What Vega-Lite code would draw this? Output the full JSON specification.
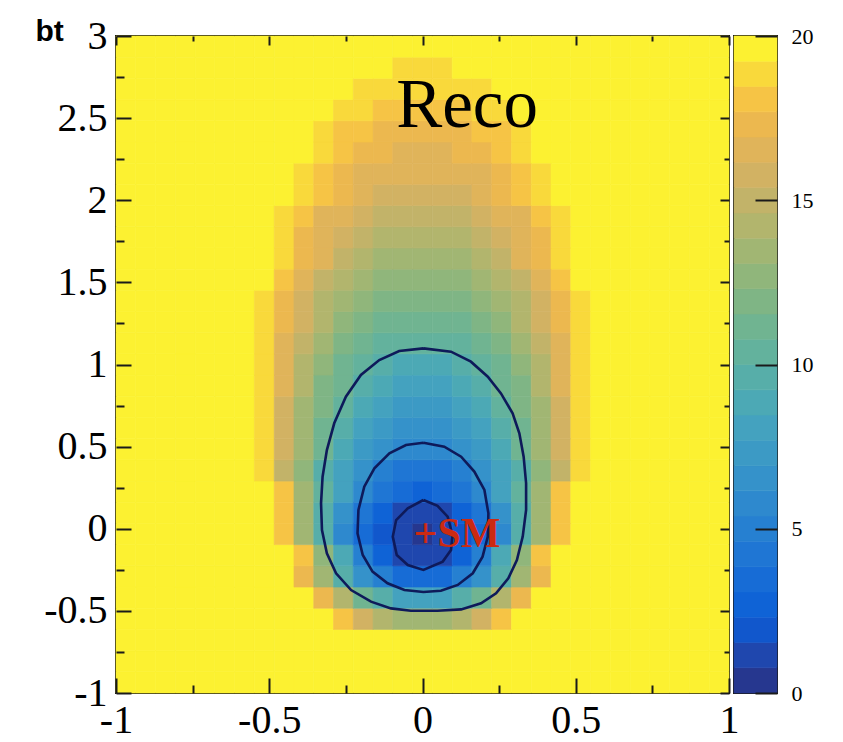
{
"$schema": "https://vega.github.io/schema/vega-lite/v6.json",
"background": "white",
"padding": {"left": 34, "top": 15, "right": 5, "bottom": 5},
"bounds": "flush",
"spacing": 5,
"config": {
  "view": {"stroke": "#1a1a1a", "strokeWidth": 2},
  "axis": {"labelFont": "Liberation Serif", "labelColor": "black", "tickColor": "#1a1a1a", "tickWidth": 2, "domain": false, "grid": false, "labelFlush": false, "labelOverlap": false, "labelBound": false, "zindex": 2}
},
"hconcat": [
{
  "width": 613,
  "height": 657,
  "layer": [
    {
      "data": {"values": [
{"i":0,"j":0,"v":20},{"i":1,"j":0,"v":20},{"i":2,"j":0,"v":20},{"i":3,"j":0,"v":20},{"i":4,"j":0,"v":20},{"i":5,"j":0,"v":20},{"i":6,"j":0,"v":20},{"i":7,"j":0,"v":20},{"i":8,"j":0,"v":20},{"i":9,"j":0,"v":20},{"i":10,"j":0,"v":20},{"i":11,"j":0,"v":20},{"i":12,"j":0,"v":20},{"i":13,"j":0,"v":20},{"i":14,"j":0,"v":20},{"i":15,"j":0,"v":20},{"i":16,"j":0,"v":20},{"i":17,"j":0,"v":20},{"i":18,"j":0,"v":20},{"i":19,"j":0,"v":20},{"i":20,"j":0,"v":20},{"i":21,"j":0,"v":20},{"i":22,"j":0,"v":20},{"i":23,"j":0,"v":20},{"i":24,"j":0,"v":20},{"i":25,"j":0,"v":20},{"i":26,"j":0,"v":20},{"i":27,"j":0,"v":20},{"i":28,"j":0,"v":20},{"i":29,"j":0,"v":20},{"i":30,"j":0,"v":20},
{"i":0,"j":1,"v":20},{"i":1,"j":1,"v":20},{"i":2,"j":1,"v":20},{"i":3,"j":1,"v":20},{"i":4,"j":1,"v":20},{"i":5,"j":1,"v":20},{"i":6,"j":1,"v":20},{"i":7,"j":1,"v":20},{"i":8,"j":1,"v":20},{"i":9,"j":1,"v":20},{"i":10,"j":1,"v":20},{"i":11,"j":1,"v":20},{"i":12,"j":1,"v":20},{"i":13,"j":1,"v":20},{"i":14,"j":1,"v":20},{"i":15,"j":1,"v":20},{"i":16,"j":1,"v":20},{"i":17,"j":1,"v":20},{"i":18,"j":1,"v":20},{"i":19,"j":1,"v":20},{"i":20,"j":1,"v":20},{"i":21,"j":1,"v":20},{"i":22,"j":1,"v":20},{"i":23,"j":1,"v":20},{"i":24,"j":1,"v":20},{"i":25,"j":1,"v":20},{"i":26,"j":1,"v":20},{"i":27,"j":1,"v":20},{"i":28,"j":1,"v":20},{"i":29,"j":1,"v":20},{"i":30,"j":1,"v":20},
{"i":0,"j":2,"v":20},{"i":1,"j":2,"v":20},{"i":2,"j":2,"v":20},{"i":3,"j":2,"v":20},{"i":4,"j":2,"v":20},{"i":5,"j":2,"v":20},{"i":6,"j":2,"v":20},{"i":7,"j":2,"v":20},{"i":8,"j":2,"v":20},{"i":9,"j":2,"v":20},{"i":10,"j":2,"v":20},{"i":11,"j":2,"v":20},{"i":12,"j":2,"v":20},{"i":13,"j":2,"v":20},{"i":14,"j":2,"v":20},{"i":15,"j":2,"v":20},{"i":16,"j":2,"v":20},{"i":17,"j":2,"v":20},{"i":18,"j":2,"v":20},{"i":19,"j":2,"v":20},{"i":20,"j":2,"v":20},{"i":21,"j":2,"v":20},{"i":22,"j":2,"v":20},{"i":23,"j":2,"v":20},{"i":24,"j":2,"v":20},{"i":25,"j":2,"v":20},{"i":26,"j":2,"v":20},{"i":27,"j":2,"v":20},{"i":28,"j":2,"v":20},{"i":29,"j":2,"v":20},{"i":30,"j":2,"v":20},
{"i":0,"j":3,"v":20},{"i":1,"j":3,"v":20},{"i":2,"j":3,"v":20},{"i":3,"j":3,"v":20},{"i":4,"j":3,"v":20},{"i":5,"j":3,"v":20},{"i":6,"j":3,"v":20},{"i":7,"j":3,"v":20},{"i":8,"j":3,"v":20},{"i":9,"j":3,"v":20},{"i":10,"j":3,"v":20},{"i":11,"j":3,"v":18},{"i":12,"j":3,"v":16},{"i":13,"j":3,"v":14.6},{"i":14,"j":3,"v":13.8},{"i":15,"j":3,"v":13.5},{"i":16,"j":3,"v":13.8},{"i":17,"j":3,"v":14.6},{"i":18,"j":3,"v":16},{"i":19,"j":3,"v":18},{"i":20,"j":3,"v":20},{"i":21,"j":3,"v":20},{"i":22,"j":3,"v":20},{"i":23,"j":3,"v":20},{"i":24,"j":3,"v":20},{"i":25,"j":3,"v":20},{"i":26,"j":3,"v":20},{"i":27,"j":3,"v":20},{"i":28,"j":3,"v":20},{"i":29,"j":3,"v":20},{"i":30,"j":3,"v":20},
{"i":0,"j":4,"v":20},{"i":1,"j":4,"v":20},{"i":2,"j":4,"v":20},{"i":3,"j":4,"v":20},{"i":4,"j":4,"v":20},{"i":5,"j":4,"v":20},{"i":6,"j":4,"v":20},{"i":7,"j":4,"v":20},{"i":8,"j":4,"v":20},{"i":9,"j":4,"v":20},{"i":10,"j":4,"v":17.5},{"i":11,"j":4,"v":14},{"i":12,"j":4,"v":11.3},{"i":13,"j":4,"v":9.4},{"i":14,"j":4,"v":8.2},{"i":15,"j":4,"v":7.8},{"i":16,"j":4,"v":8.2},{"i":17,"j":4,"v":9.4},{"i":18,"j":4,"v":11.3},{"i":19,"j":4,"v":14},{"i":20,"j":4,"v":17.5},{"i":21,"j":4,"v":20},{"i":22,"j":4,"v":20},{"i":23,"j":4,"v":20},{"i":24,"j":4,"v":20},{"i":25,"j":4,"v":20},{"i":26,"j":4,"v":20},{"i":27,"j":4,"v":20},{"i":28,"j":4,"v":20},{"i":29,"j":4,"v":20},{"i":30,"j":4,"v":20},
{"i":0,"j":5,"v":20},{"i":1,"j":5,"v":20},{"i":2,"j":5,"v":20},{"i":3,"j":5,"v":20},{"i":4,"j":5,"v":20},{"i":5,"j":5,"v":20},{"i":6,"j":5,"v":20},{"i":7,"j":5,"v":20},{"i":8,"j":5,"v":20},{"i":9,"j":5,"v":17.5},{"i":10,"j":5,"v":13.1},{"i":11,"j":5,"v":9.6},{"i":12,"j":5,"v":6.8},{"i":13,"j":5,"v":4.8},{"i":14,"j":5,"v":3.6},{"i":15,"j":5,"v":3.2},{"i":16,"j":5,"v":3.6},{"i":17,"j":5,"v":4.8},{"i":18,"j":5,"v":6.8},{"i":19,"j":5,"v":9.6},{"i":20,"j":5,"v":13.1},{"i":21,"j":5,"v":17.5},{"i":22,"j":5,"v":20},{"i":23,"j":5,"v":20},{"i":24,"j":5,"v":20},{"i":25,"j":5,"v":20},{"i":26,"j":5,"v":20},{"i":27,"j":5,"v":20},{"i":28,"j":5,"v":20},{"i":29,"j":5,"v":20},{"i":30,"j":5,"v":20},
{"i":0,"j":6,"v":20},{"i":1,"j":6,"v":20},{"i":2,"j":6,"v":20},{"i":3,"j":6,"v":20},{"i":4,"j":6,"v":20},{"i":5,"j":6,"v":20},{"i":6,"j":6,"v":20},{"i":7,"j":6,"v":20},{"i":8,"j":6,"v":20},{"i":9,"j":6,"v":17.8},{"i":10,"j":6,"v":12.7},{"i":11,"j":6,"v":8.5},{"i":12,"j":6,"v":5.2},{"i":13,"j":6,"v":2.9},{"i":14,"j":6,"v":1.5},{"i":15,"j":6,"v":1},{"i":16,"j":6,"v":1.5},{"i":17,"j":6,"v":2.9},{"i":18,"j":6,"v":5.2},{"i":19,"j":6,"v":8.5},{"i":20,"j":6,"v":12.7},{"i":21,"j":6,"v":17.8},{"i":22,"j":6,"v":20},{"i":23,"j":6,"v":20},{"i":24,"j":6,"v":20},{"i":25,"j":6,"v":20},{"i":26,"j":6,"v":20},{"i":27,"j":6,"v":20},{"i":28,"j":6,"v":20},{"i":29,"j":6,"v":20},{"i":30,"j":6,"v":20},
{"i":0,"j":7,"v":20},{"i":1,"j":7,"v":20},{"i":2,"j":7,"v":20},{"i":3,"j":7,"v":20},{"i":4,"j":7,"v":20},{"i":5,"j":7,"v":20},{"i":6,"j":7,"v":20},{"i":7,"j":7,"v":20},{"i":8,"j":7,"v":17.7},{"i":9,"j":7,"v":13.1},{"i":10,"j":7,"v":9.3},{"i":11,"j":7,"v":6.1},{"i":12,"j":7,"v":3.7},{"i":13,"j":7,"v":1.9},{"i":14,"j":7,"v":0.85},{"i":15,"j":7,"v":0.5},{"i":16,"j":7,"v":0.85},{"i":17,"j":7,"v":1.9},{"i":18,"j":7,"v":3.7},{"i":19,"j":7,"v":6.1},{"i":20,"j":7,"v":9.3},{"i":21,"j":7,"v":13.1},{"i":22,"j":7,"v":17.7},{"i":23,"j":7,"v":20},{"i":24,"j":7,"v":20},{"i":25,"j":7,"v":20},{"i":26,"j":7,"v":20},{"i":27,"j":7,"v":20},{"i":28,"j":7,"v":20},{"i":29,"j":7,"v":20},{"i":30,"j":7,"v":20},
{"i":0,"j":8,"v":20},{"i":1,"j":8,"v":20},{"i":2,"j":8,"v":20},{"i":3,"j":8,"v":20},{"i":4,"j":8,"v":20},{"i":5,"j":8,"v":20},{"i":6,"j":8,"v":20},{"i":7,"j":8,"v":20},{"i":8,"j":8,"v":17.7},{"i":9,"j":8,"v":13.3},{"i":10,"j":8,"v":9.6},{"i":11,"j":8,"v":6.6},{"i":12,"j":8,"v":4.2},{"i":13,"j":8,"v":2.5},{"i":14,"j":8,"v":1.5},{"i":15,"j":8,"v":1.2},{"i":16,"j":8,"v":1.5},{"i":17,"j":8,"v":2.5},{"i":18,"j":8,"v":4.2},{"i":19,"j":8,"v":6.6},{"i":20,"j":8,"v":9.6},{"i":21,"j":8,"v":13.3},{"i":22,"j":8,"v":17.7},{"i":23,"j":8,"v":20},{"i":24,"j":8,"v":20},{"i":25,"j":8,"v":20},{"i":26,"j":8,"v":20},{"i":27,"j":8,"v":20},{"i":28,"j":8,"v":20},{"i":29,"j":8,"v":20},{"i":30,"j":8,"v":20},
{"i":0,"j":9,"v":20},{"i":1,"j":9,"v":20},{"i":2,"j":9,"v":20},{"i":3,"j":9,"v":20},{"i":4,"j":9,"v":20},{"i":5,"j":9,"v":20},{"i":6,"j":9,"v":20},{"i":7,"j":9,"v":20},{"i":8,"j":9,"v":17.8},{"i":9,"j":9,"v":13.8},{"i":10,"j":9,"v":10.5},{"i":11,"j":9,"v":7.8},{"i":12,"j":9,"v":5.6},{"i":13,"j":9,"v":4.1},{"i":14,"j":9,"v":3.2},{"i":15,"j":9,"v":2.9},{"i":16,"j":9,"v":3.2},{"i":17,"j":9,"v":4.1},{"i":18,"j":9,"v":5.6},{"i":19,"j":9,"v":7.8},{"i":20,"j":9,"v":10.5},{"i":21,"j":9,"v":13.8},{"i":22,"j":9,"v":17.8},{"i":23,"j":9,"v":20},{"i":24,"j":9,"v":20},{"i":25,"j":9,"v":20},{"i":26,"j":9,"v":20},{"i":27,"j":9,"v":20},{"i":28,"j":9,"v":20},{"i":29,"j":9,"v":20},{"i":30,"j":9,"v":20},
{"i":0,"j":10,"v":20},{"i":1,"j":10,"v":20},{"i":2,"j":10,"v":20},{"i":3,"j":10,"v":20},{"i":4,"j":10,"v":20},{"i":5,"j":10,"v":20},{"i":6,"j":10,"v":20},{"i":7,"j":10,"v":18.6},{"i":8,"j":10,"v":15.3},{"i":9,"j":10,"v":12.4},{"i":10,"j":10,"v":9.9},{"i":11,"j":10,"v":8},{"i":12,"j":10,"v":6.4},{"i":13,"j":10,"v":5.3},{"i":14,"j":10,"v":4.6},{"i":15,"j":10,"v":4.4},{"i":16,"j":10,"v":4.6},{"i":17,"j":10,"v":5.3},{"i":18,"j":10,"v":6.4},{"i":19,"j":10,"v":8},{"i":20,"j":10,"v":9.9},{"i":21,"j":10,"v":12.4},{"i":22,"j":10,"v":15.3},{"i":23,"j":10,"v":18.6},{"i":24,"j":10,"v":20},{"i":25,"j":10,"v":20},{"i":26,"j":10,"v":20},{"i":27,"j":10,"v":20},{"i":28,"j":10,"v":20},{"i":29,"j":10,"v":20},{"i":30,"j":10,"v":20},
{"i":0,"j":11,"v":20},{"i":1,"j":11,"v":20},{"i":2,"j":11,"v":20},{"i":3,"j":11,"v":20},{"i":4,"j":11,"v":20},{"i":5,"j":11,"v":20},{"i":6,"j":11,"v":20},{"i":7,"j":11,"v":18.7},{"i":8,"j":11,"v":15.7},{"i":9,"j":11,"v":13.1},{"i":10,"j":11,"v":10.8},{"i":11,"j":11,"v":9},{"i":12,"j":11,"v":7.6},{"i":13,"j":11,"v":6.6},{"i":14,"j":11,"v":6},{"i":15,"j":11,"v":5.8},{"i":16,"j":11,"v":6},{"i":17,"j":11,"v":6.6},{"i":18,"j":11,"v":7.6},{"i":19,"j":11,"v":9},{"i":20,"j":11,"v":10.8},{"i":21,"j":11,"v":13.1},{"i":22,"j":11,"v":15.7},{"i":23,"j":11,"v":18.7},{"i":24,"j":11,"v":20},{"i":25,"j":11,"v":20},{"i":26,"j":11,"v":20},{"i":27,"j":11,"v":20},{"i":28,"j":11,"v":20},{"i":29,"j":11,"v":20},{"i":30,"j":11,"v":20},
{"i":0,"j":12,"v":20},{"i":1,"j":12,"v":20},{"i":2,"j":12,"v":20},{"i":3,"j":12,"v":20},{"i":4,"j":12,"v":20},{"i":5,"j":12,"v":20},{"i":6,"j":12,"v":20},{"i":7,"j":12,"v":18.7},{"i":8,"j":12,"v":15.9},{"i":9,"j":12,"v":13.4},{"i":10,"j":12,"v":11.3},{"i":11,"j":12,"v":9.6},{"i":12,"j":12,"v":8.3},{"i":13,"j":12,"v":7.4},{"i":14,"j":12,"v":6.8},{"i":15,"j":12,"v":6.6},{"i":16,"j":12,"v":6.8},{"i":17,"j":12,"v":7.4},{"i":18,"j":12,"v":8.3},{"i":19,"j":12,"v":9.6},{"i":20,"j":12,"v":11.3},{"i":21,"j":12,"v":13.4},{"i":22,"j":12,"v":15.9},{"i":23,"j":12,"v":18.7},{"i":24,"j":12,"v":20},{"i":25,"j":12,"v":20},{"i":26,"j":12,"v":20},{"i":27,"j":12,"v":20},{"i":28,"j":12,"v":20},{"i":29,"j":12,"v":20},{"i":30,"j":12,"v":20},
{"i":0,"j":13,"v":20},{"i":1,"j":13,"v":20},{"i":2,"j":13,"v":20},{"i":3,"j":13,"v":20},{"i":4,"j":13,"v":20},{"i":5,"j":13,"v":20},{"i":6,"j":13,"v":20},{"i":7,"j":13,"v":18.8},{"i":8,"j":13,"v":16.1},{"i":9,"j":13,"v":13.8},{"i":10,"j":13,"v":11.9},{"i":11,"j":13,"v":10.3},{"i":12,"j":13,"v":9},{"i":13,"j":13,"v":8.1},{"i":14,"j":13,"v":7.6},{"i":15,"j":13,"v":7.4},{"i":16,"j":13,"v":7.6},{"i":17,"j":13,"v":8.1},{"i":18,"j":13,"v":9},{"i":19,"j":13,"v":10.3},{"i":20,"j":13,"v":11.9},{"i":21,"j":13,"v":13.8},{"i":22,"j":13,"v":16.1},{"i":23,"j":13,"v":18.8},{"i":24,"j":13,"v":20},{"i":25,"j":13,"v":20},{"i":26,"j":13,"v":20},{"i":27,"j":13,"v":20},{"i":28,"j":13,"v":20},{"i":29,"j":13,"v":20},{"i":30,"j":13,"v":20},
{"i":0,"j":14,"v":20},{"i":1,"j":14,"v":20},{"i":2,"j":14,"v":20},{"i":3,"j":14,"v":20},{"i":4,"j":14,"v":20},{"i":5,"j":14,"v":20},{"i":6,"j":14,"v":20},{"i":7,"j":14,"v":18.8},{"i":8,"j":14,"v":16.3},{"i":9,"j":14,"v":14.2},{"i":10,"j":14,"v":12.3},{"i":11,"j":14,"v":10.9},{"i":12,"j":14,"v":9.7},{"i":13,"j":14,"v":8.9},{"i":14,"j":14,"v":8.4},{"i":15,"j":14,"v":8.2},{"i":16,"j":14,"v":8.4},{"i":17,"j":14,"v":8.9},{"i":18,"j":14,"v":9.7},{"i":19,"j":14,"v":10.9},{"i":20,"j":14,"v":12.3},{"i":21,"j":14,"v":14.2},{"i":22,"j":14,"v":16.3},{"i":23,"j":14,"v":18.8},{"i":24,"j":14,"v":20},{"i":25,"j":14,"v":20},{"i":26,"j":14,"v":20},{"i":27,"j":14,"v":20},{"i":28,"j":14,"v":20},{"i":29,"j":14,"v":20},{"i":30,"j":14,"v":20},
{"i":0,"j":15,"v":20},{"i":1,"j":15,"v":20},{"i":2,"j":15,"v":20},{"i":3,"j":15,"v":20},{"i":4,"j":15,"v":20},{"i":5,"j":15,"v":20},{"i":6,"j":15,"v":20},{"i":7,"j":15,"v":18.8},{"i":8,"j":15,"v":16.5},{"i":9,"j":15,"v":14.5},{"i":10,"j":15,"v":12.8},{"i":11,"j":15,"v":11.5},{"i":12,"j":15,"v":10.4},{"i":13,"j":15,"v":9.6},{"i":14,"j":15,"v":9.2},{"i":15,"j":15,"v":9},{"i":16,"j":15,"v":9.2},{"i":17,"j":15,"v":9.6},{"i":18,"j":15,"v":10.4},{"i":19,"j":15,"v":11.5},{"i":20,"j":15,"v":12.8},{"i":21,"j":15,"v":14.5},{"i":22,"j":15,"v":16.5},{"i":23,"j":15,"v":18.8},{"i":24,"j":15,"v":20},{"i":25,"j":15,"v":20},{"i":26,"j":15,"v":20},{"i":27,"j":15,"v":20},{"i":28,"j":15,"v":20},{"i":29,"j":15,"v":20},{"i":30,"j":15,"v":20},
{"i":0,"j":16,"v":20},{"i":1,"j":16,"v":20},{"i":2,"j":16,"v":20},{"i":3,"j":16,"v":20},{"i":4,"j":16,"v":20},{"i":5,"j":16,"v":20},{"i":6,"j":16,"v":20},{"i":7,"j":16,"v":18.8},{"i":8,"j":16,"v":16.7},{"i":9,"j":16,"v":15},{"i":10,"j":16,"v":13.4},{"i":11,"j":16,"v":12.2},{"i":12,"j":16,"v":11.2},{"i":13,"j":16,"v":10.6},{"i":14,"j":16,"v":10.1},{"i":15,"j":16,"v":10},{"i":16,"j":16,"v":10.1},{"i":17,"j":16,"v":10.6},{"i":18,"j":16,"v":11.2},{"i":19,"j":16,"v":12.2},{"i":20,"j":16,"v":13.4},{"i":21,"j":16,"v":15},{"i":22,"j":16,"v":16.7},{"i":23,"j":16,"v":18.8},{"i":24,"j":16,"v":20},{"i":25,"j":16,"v":20},{"i":26,"j":16,"v":20},{"i":27,"j":16,"v":20},{"i":28,"j":16,"v":20},{"i":29,"j":16,"v":20},{"i":30,"j":16,"v":20},
{"i":0,"j":17,"v":20},{"i":1,"j":17,"v":20},{"i":2,"j":17,"v":20},{"i":3,"j":17,"v":20},{"i":4,"j":17,"v":20},{"i":5,"j":17,"v":20},{"i":6,"j":17,"v":20},{"i":7,"j":17,"v":18.9},{"i":8,"j":17,"v":17},{"i":9,"j":17,"v":15.4},{"i":10,"j":17,"v":14},{"i":11,"j":17,"v":12.8},{"i":12,"j":17,"v":11.9},{"i":13,"j":17,"v":11.3},{"i":14,"j":17,"v":10.9},{"i":15,"j":17,"v":10.8},{"i":16,"j":17,"v":10.9},{"i":17,"j":17,"v":11.3},{"i":18,"j":17,"v":11.9},{"i":19,"j":17,"v":12.8},{"i":20,"j":17,"v":14},{"i":21,"j":17,"v":15.4},{"i":22,"j":17,"v":17},{"i":23,"j":17,"v":18.9},{"i":24,"j":17,"v":20},{"i":25,"j":17,"v":20},{"i":26,"j":17,"v":20},{"i":27,"j":17,"v":20},{"i":28,"j":17,"v":20},{"i":29,"j":17,"v":20},{"i":30,"j":17,"v":20},
{"i":0,"j":18,"v":20},{"i":1,"j":18,"v":20},{"i":2,"j":18,"v":20},{"i":3,"j":18,"v":20},{"i":4,"j":18,"v":20},{"i":5,"j":18,"v":20},{"i":6,"j":18,"v":20},{"i":7,"j":18,"v":18.9},{"i":8,"j":18,"v":17.2},{"i":9,"j":18,"v":15.8},{"i":10,"j":18,"v":14.6},{"i":11,"j":18,"v":13.6},{"i":12,"j":18,"v":12.8},{"i":13,"j":18,"v":12.2},{"i":14,"j":18,"v":11.9},{"i":15,"j":18,"v":11.8},{"i":16,"j":18,"v":11.9},{"i":17,"j":18,"v":12.2},{"i":18,"j":18,"v":12.8},{"i":19,"j":18,"v":13.6},{"i":20,"j":18,"v":14.6},{"i":21,"j":18,"v":15.8},{"i":22,"j":18,"v":17.2},{"i":23,"j":18,"v":18.9},{"i":24,"j":18,"v":20},{"i":25,"j":18,"v":20},{"i":26,"j":18,"v":20},{"i":27,"j":18,"v":20},{"i":28,"j":18,"v":20},{"i":29,"j":18,"v":20},{"i":30,"j":18,"v":20},
{"i":0,"j":19,"v":20},{"i":1,"j":19,"v":20},{"i":2,"j":19,"v":20},{"i":3,"j":19,"v":20},{"i":4,"j":19,"v":20},{"i":5,"j":19,"v":20},{"i":6,"j":19,"v":20},{"i":7,"j":19,"v":19.3},{"i":8,"j":19,"v":17.7},{"i":9,"j":19,"v":16.4},{"i":10,"j":19,"v":15.2},{"i":11,"j":19,"v":14.3},{"i":12,"j":19,"v":13.5},{"i":13,"j":19,"v":13},{"i":14,"j":19,"v":12.7},{"i":15,"j":19,"v":12.6},{"i":16,"j":19,"v":12.7},{"i":17,"j":19,"v":13},{"i":18,"j":19,"v":13.5},{"i":19,"j":19,"v":14.3},{"i":20,"j":19,"v":15.2},{"i":21,"j":19,"v":16.4},{"i":22,"j":19,"v":17.7},{"i":23,"j":19,"v":19.3},{"i":24,"j":19,"v":20},{"i":25,"j":19,"v":20},{"i":26,"j":19,"v":20},{"i":27,"j":19,"v":20},{"i":28,"j":19,"v":20},{"i":29,"j":19,"v":20},{"i":30,"j":19,"v":20},
{"i":0,"j":20,"v":20},{"i":1,"j":20,"v":20},{"i":2,"j":20,"v":20},{"i":3,"j":20,"v":20},{"i":4,"j":20,"v":20},{"i":5,"j":20,"v":20},{"i":6,"j":20,"v":20},{"i":7,"j":20,"v":20},{"i":8,"j":20,"v":18.8},{"i":9,"j":20,"v":17.4},{"i":10,"j":20,"v":16.2},{"i":11,"j":20,"v":15.2},{"i":12,"j":20,"v":14.4},{"i":13,"j":20,"v":13.8},{"i":14,"j":20,"v":13.5},{"i":15,"j":20,"v":13.4},{"i":16,"j":20,"v":13.5},{"i":17,"j":20,"v":13.8},{"i":18,"j":20,"v":14.4},{"i":19,"j":20,"v":15.2},{"i":20,"j":20,"v":16.2},{"i":21,"j":20,"v":17.4},{"i":22,"j":20,"v":18.8},{"i":23,"j":20,"v":20},{"i":24,"j":20,"v":20},{"i":25,"j":20,"v":20},{"i":26,"j":20,"v":20},{"i":27,"j":20,"v":20},{"i":28,"j":20,"v":20},{"i":29,"j":20,"v":20},{"i":30,"j":20,"v":20},
{"i":0,"j":21,"v":20},{"i":1,"j":21,"v":20},{"i":2,"j":21,"v":20},{"i":3,"j":21,"v":20},{"i":4,"j":21,"v":20},{"i":5,"j":21,"v":20},{"i":6,"j":21,"v":20},{"i":7,"j":21,"v":20},{"i":8,"j":21,"v":18.8},{"i":9,"j":21,"v":17.6},{"i":10,"j":21,"v":16.5},{"i":11,"j":21,"v":15.7},{"i":12,"j":21,"v":15},{"i":13,"j":21,"v":14.6},{"i":14,"j":21,"v":14.3},{"i":15,"j":21,"v":14.2},{"i":16,"j":21,"v":14.3},{"i":17,"j":21,"v":14.6},{"i":18,"j":21,"v":15},{"i":19,"j":21,"v":15.7},{"i":20,"j":21,"v":16.5},{"i":21,"j":21,"v":17.6},{"i":22,"j":21,"v":18.8},{"i":23,"j":21,"v":20},{"i":24,"j":21,"v":20},{"i":25,"j":21,"v":20},{"i":26,"j":21,"v":20},{"i":27,"j":21,"v":20},{"i":28,"j":21,"v":20},{"i":29,"j":21,"v":20},{"i":30,"j":21,"v":20},
{"i":0,"j":22,"v":20},{"i":1,"j":22,"v":20},{"i":2,"j":22,"v":20},{"i":3,"j":22,"v":20},{"i":4,"j":22,"v":20},{"i":5,"j":22,"v":20},{"i":6,"j":22,"v":20},{"i":7,"j":22,"v":20},{"i":8,"j":22,"v":18.8},{"i":9,"j":22,"v":17.8},{"i":10,"j":22,"v":16.9},{"i":11,"j":22,"v":16.2},{"i":12,"j":22,"v":15.7},{"i":13,"j":22,"v":15.3},{"i":14,"j":22,"v":15.1},{"i":15,"j":22,"v":15},{"i":16,"j":22,"v":15.1},{"i":17,"j":22,"v":15.3},{"i":18,"j":22,"v":15.7},{"i":19,"j":22,"v":16.2},{"i":20,"j":22,"v":16.9},{"i":21,"j":22,"v":17.8},{"i":22,"j":22,"v":18.8},{"i":23,"j":22,"v":20},{"i":24,"j":22,"v":20},{"i":25,"j":22,"v":20},{"i":26,"j":22,"v":20},{"i":27,"j":22,"v":20},{"i":28,"j":22,"v":20},{"i":29,"j":22,"v":20},{"i":30,"j":22,"v":20},
{"i":0,"j":23,"v":20},{"i":1,"j":23,"v":20},{"i":2,"j":23,"v":20},{"i":3,"j":23,"v":20},{"i":4,"j":23,"v":20},{"i":5,"j":23,"v":20},{"i":6,"j":23,"v":20},{"i":7,"j":23,"v":20},{"i":8,"j":23,"v":20},{"i":9,"j":23,"v":18.8},{"i":10,"j":23,"v":17.8},{"i":11,"j":23,"v":17},{"i":12,"j":23,"v":16.4},{"i":13,"j":23,"v":16},{"i":14,"j":23,"v":15.7},{"i":15,"j":23,"v":15.6},{"i":16,"j":23,"v":15.7},{"i":17,"j":23,"v":16},{"i":18,"j":23,"v":16.4},{"i":19,"j":23,"v":17},{"i":20,"j":23,"v":17.8},{"i":21,"j":23,"v":18.8},{"i":22,"j":23,"v":20},{"i":23,"j":23,"v":20},{"i":24,"j":23,"v":20},{"i":25,"j":23,"v":20},{"i":26,"j":23,"v":20},{"i":27,"j":23,"v":20},{"i":28,"j":23,"v":20},{"i":29,"j":23,"v":20},{"i":30,"j":23,"v":20},
{"i":0,"j":24,"v":20},{"i":1,"j":24,"v":20},{"i":2,"j":24,"v":20},{"i":3,"j":24,"v":20},{"i":4,"j":24,"v":20},{"i":5,"j":24,"v":20},{"i":6,"j":24,"v":20},{"i":7,"j":24,"v":20},{"i":8,"j":24,"v":20},{"i":9,"j":24,"v":18.9},{"i":10,"j":24,"v":18.1},{"i":11,"j":24,"v":17.4},{"i":12,"j":24,"v":16.9},{"i":13,"j":24,"v":16.5},{"i":14,"j":24,"v":16.3},{"i":15,"j":24,"v":16.2},{"i":16,"j":24,"v":16.3},{"i":17,"j":24,"v":16.5},{"i":18,"j":24,"v":16.9},{"i":19,"j":24,"v":17.4},{"i":20,"j":24,"v":18.1},{"i":21,"j":24,"v":18.9},{"i":22,"j":24,"v":20},{"i":23,"j":24,"v":20},{"i":24,"j":24,"v":20},{"i":25,"j":24,"v":20},{"i":26,"j":24,"v":20},{"i":27,"j":24,"v":20},{"i":28,"j":24,"v":20},{"i":29,"j":24,"v":20},{"i":30,"j":24,"v":20},
{"i":0,"j":25,"v":20},{"i":1,"j":25,"v":20},{"i":2,"j":25,"v":20},{"i":3,"j":25,"v":20},{"i":4,"j":25,"v":20},{"i":5,"j":25,"v":20},{"i":6,"j":25,"v":20},{"i":7,"j":25,"v":20},{"i":8,"j":25,"v":20},{"i":9,"j":25,"v":20},{"i":10,"j":25,"v":18.9},{"i":11,"j":25,"v":18.1},{"i":12,"j":25,"v":17.5},{"i":13,"j":25,"v":17.1},{"i":14,"j":25,"v":16.8},{"i":15,"j":25,"v":16.7},{"i":16,"j":25,"v":16.8},{"i":17,"j":25,"v":17.1},{"i":18,"j":25,"v":17.5},{"i":19,"j":25,"v":18.1},{"i":20,"j":25,"v":18.9},{"i":21,"j":25,"v":20},{"i":22,"j":25,"v":20},{"i":23,"j":25,"v":20},{"i":24,"j":25,"v":20},{"i":25,"j":25,"v":20},{"i":26,"j":25,"v":20},{"i":27,"j":25,"v":20},{"i":28,"j":25,"v":20},{"i":29,"j":25,"v":20},{"i":30,"j":25,"v":20},
{"i":0,"j":26,"v":20},{"i":1,"j":26,"v":20},{"i":2,"j":26,"v":20},{"i":3,"j":26,"v":20},{"i":4,"j":26,"v":20},{"i":5,"j":26,"v":20},{"i":6,"j":26,"v":20},{"i":7,"j":26,"v":20},{"i":8,"j":26,"v":20},{"i":9,"j":26,"v":20},{"i":10,"j":26,"v":18.9},{"i":11,"j":26,"v":18.3},{"i":12,"j":26,"v":17.9},{"i":13,"j":26,"v":17.6},{"i":14,"j":26,"v":17.4},{"i":15,"j":26,"v":17.3},{"i":16,"j":26,"v":17.4},{"i":17,"j":26,"v":17.6},{"i":18,"j":26,"v":17.9},{"i":19,"j":26,"v":18.3},{"i":20,"j":26,"v":18.9},{"i":21,"j":26,"v":20},{"i":22,"j":26,"v":20},{"i":23,"j":26,"v":20},{"i":24,"j":26,"v":20},{"i":25,"j":26,"v":20},{"i":26,"j":26,"v":20},{"i":27,"j":26,"v":20},{"i":28,"j":26,"v":20},{"i":29,"j":26,"v":20},{"i":30,"j":26,"v":20},
{"i":0,"j":27,"v":20},{"i":1,"j":27,"v":20},{"i":2,"j":27,"v":20},{"i":3,"j":27,"v":20},{"i":4,"j":27,"v":20},{"i":5,"j":27,"v":20},{"i":6,"j":27,"v":20},{"i":7,"j":27,"v":20},{"i":8,"j":27,"v":20},{"i":9,"j":27,"v":20},{"i":10,"j":27,"v":20},{"i":11,"j":27,"v":19},{"i":12,"j":27,"v":18.5},{"i":13,"j":27,"v":18.2},{"i":14,"j":27,"v":18},{"i":15,"j":27,"v":17.9},{"i":16,"j":27,"v":18},{"i":17,"j":27,"v":18.2},{"i":18,"j":27,"v":18.5},{"i":19,"j":27,"v":19},{"i":20,"j":27,"v":20},{"i":21,"j":27,"v":20},{"i":22,"j":27,"v":20},{"i":23,"j":27,"v":20},{"i":24,"j":27,"v":20},{"i":25,"j":27,"v":20},{"i":26,"j":27,"v":20},{"i":27,"j":27,"v":20},{"i":28,"j":27,"v":20},{"i":29,"j":27,"v":20},{"i":30,"j":27,"v":20},
{"i":0,"j":28,"v":20},{"i":1,"j":28,"v":20},{"i":2,"j":28,"v":20},{"i":3,"j":28,"v":20},{"i":4,"j":28,"v":20},{"i":5,"j":28,"v":20},{"i":6,"j":28,"v":20},{"i":7,"j":28,"v":20},{"i":8,"j":28,"v":20},{"i":9,"j":28,"v":20},{"i":10,"j":28,"v":20},{"i":11,"j":28,"v":20},{"i":12,"j":28,"v":19},{"i":13,"j":28,"v":18.7},{"i":14,"j":28,"v":18.6},{"i":15,"j":28,"v":18.5},{"i":16,"j":28,"v":18.6},{"i":17,"j":28,"v":18.7},{"i":18,"j":28,"v":19},{"i":19,"j":28,"v":20},{"i":20,"j":28,"v":20},{"i":21,"j":28,"v":20},{"i":22,"j":28,"v":20},{"i":23,"j":28,"v":20},{"i":24,"j":28,"v":20},{"i":25,"j":28,"v":20},{"i":26,"j":28,"v":20},{"i":27,"j":28,"v":20},{"i":28,"j":28,"v":20},{"i":29,"j":28,"v":20},{"i":30,"j":28,"v":20},
{"i":0,"j":29,"v":20},{"i":1,"j":29,"v":20},{"i":2,"j":29,"v":20},{"i":3,"j":29,"v":20},{"i":4,"j":29,"v":20},{"i":5,"j":29,"v":20},{"i":6,"j":29,"v":20},{"i":7,"j":29,"v":20},{"i":8,"j":29,"v":20},{"i":9,"j":29,"v":20},{"i":10,"j":29,"v":20},{"i":11,"j":29,"v":20},{"i":12,"j":29,"v":20},{"i":13,"j":29,"v":20},{"i":14,"j":29,"v":19},{"i":15,"j":29,"v":18.9},{"i":16,"j":29,"v":19},{"i":17,"j":29,"v":20},{"i":18,"j":29,"v":20},{"i":19,"j":29,"v":20},{"i":20,"j":29,"v":20},{"i":21,"j":29,"v":20},{"i":22,"j":29,"v":20},{"i":23,"j":29,"v":20},{"i":24,"j":29,"v":20},{"i":25,"j":29,"v":20},{"i":26,"j":29,"v":20},{"i":27,"j":29,"v":20},{"i":28,"j":29,"v":20},{"i":29,"j":29,"v":20},{"i":30,"j":29,"v":20},
{"i":0,"j":30,"v":20},{"i":1,"j":30,"v":20},{"i":2,"j":30,"v":20},{"i":3,"j":30,"v":20},{"i":4,"j":30,"v":20},{"i":5,"j":30,"v":20},{"i":6,"j":30,"v":20},{"i":7,"j":30,"v":20},{"i":8,"j":30,"v":20},{"i":9,"j":30,"v":20},{"i":10,"j":30,"v":20},{"i":11,"j":30,"v":20},{"i":12,"j":30,"v":20},{"i":13,"j":30,"v":20},{"i":14,"j":30,"v":20},{"i":15,"j":30,"v":20},{"i":16,"j":30,"v":20},{"i":17,"j":30,"v":20},{"i":18,"j":30,"v":20},{"i":19,"j":30,"v":20},{"i":20,"j":30,"v":20},{"i":21,"j":30,"v":20},{"i":22,"j":30,"v":20},{"i":23,"j":30,"v":20},{"i":24,"j":30,"v":20},{"i":25,"j":30,"v":20},{"i":26,"j":30,"v":20},{"i":27,"j":30,"v":20},{"i":28,"j":30,"v":20},{"i":29,"j":30,"v":20},{"i":30,"j":30,"v":20}
      ]},
      "mark": {"type": "rect", "strokeWidth": 0.6},
      "encoding": {
        "x": {"field": "i", "type": "ordinal", "scale": {"domain": [0,1,2,3,4,5,6,7,8,9,10,11,12,13,14,15,16,17,18,19,20,21,22,23,24,25,26,27,28,29,30], "paddingInner": 0, "paddingOuter": 0}, "axis": null},
        "y": {"field": "j", "type": "ordinal", "scale": {"domain": [30,29,28,27,26,25,24,23,22,21,20,19,18,17,16,15,14,13,12,11,10,9,8,7,6,5,4,3,2,1,0], "paddingInner": 0, "paddingOuter": 0}, "axis": null},
        "color": {"field": "v", "type": "quantitative", "scale": {"type": "quantize", "domain": [0, 20], "range": ["#26378f","#1f47ae","#1157cc","#0f63d6","#176cd6","#1f76d4","#2680d1","#2e89ce","#3592ca","#3c9ac5","#44a2bf","#4ca9b5","#57aea9","#63b29d","#70b491","#7fb585","#90b67b","#a1b673","#b2b56d","#c2b369","#d2b263","#e0b45a","#ecb84f","#f6c445","#f9d93b","#fcf131"]}, "legend": null},
        "stroke": {"field": "v", "type": "quantitative", "scale": {"type": "quantize", "domain": [0, 20], "range": ["#26378f","#1f47ae","#1157cc","#0f63d6","#176cd6","#1f76d4","#2680d1","#2e89ce","#3592ca","#3c9ac5","#44a2bf","#4ca9b5","#57aea9","#63b29d","#70b491","#7fb585","#90b67b","#a1b673","#b2b56d","#c2b369","#d2b263","#e0b45a","#ecb84f","#f6c445","#f9d93b","#fcf131"]}, "legend": null}
      }
    },
    {
      "data": {"values": [
{"c":1,"o":0,"x":0.003,"y":0.175},{"c":1,"o":1,"x":0.049,"y":0.139},{"c":1,"o":2,"x":0.082,"y":0.074},{"c":1,"o":3,"x":0.098,"y":-0.038},{"c":1,"o":4,"x":0.093,"y":-0.129},{"c":1,"o":5,"x":0.066,"y":-0.2},{"c":1,"o":6,"x":0.003,"y":-0.251},{"c":1,"o":7,"x":-0.048,"y":-0.221},{"c":1,"o":8,"x":-0.084,"y":-0.16},{"c":1,"o":9,"x":-0.097,"y":-0.048},{"c":1,"o":10,"x":-0.086,"y":0.053},{"c":1,"o":11,"x":-0.048,"y":0.124},{"c":1,"o":12,"x":0.003,"y":0.175},
{"c":2,"o":0,"x":0.003,"y":0.524},{"c":2,"o":1,"x":0.071,"y":0.5},{"c":2,"o":2,"x":0.126,"y":0.439},{"c":2,"o":3,"x":0.169,"y":0.348},{"c":2,"o":4,"x":0.202,"y":0.236},{"c":2,"o":5,"x":0.215,"y":0.094},{"c":2,"o":6,"x":0.213,"y":-0.048},{"c":2,"o":7,"x":0.196,"y":-0.17},{"c":2,"o":8,"x":0.164,"y":-0.271},{"c":2,"o":9,"x":0.115,"y":-0.342},{"c":2,"o":10,"x":0.06,"y":-0.377},{"c":2,"o":11,"x":0.003,"y":-0.385},{"c":2,"o":12,"x":-0.059,"y":-0.373},{"c":2,"o":13,"x":-0.114,"y":-0.332},{"c":2,"o":14,"x":-0.163,"y":-0.261},{"c":2,"o":15,"x":-0.195,"y":-0.16},{"c":2,"o":16,"x":-0.212,"y":-0.028},{"c":2,"o":17,"x":-0.209,"y":0.114},{"c":2,"o":18,"x":-0.19,"y":0.256},{"c":2,"o":19,"x":-0.157,"y":0.368},{"c":2,"o":20,"x":-0.108,"y":0.459},{"c":2,"o":21,"x":-0.054,"y":0.51},{"c":2,"o":22,"x":0.003,"y":0.524},
{"c":3,"o":0,"x":0.003,"y":1.098},{"c":3,"o":1,"x":0.093,"y":1.078},{"c":3,"o":2,"x":0.158,"y":1.017},{"c":3,"o":3,"x":0.213,"y":0.926},{"c":3,"o":4,"x":0.256,"y":0.824},{"c":3,"o":5,"x":0.294,"y":0.703},{"c":3,"o":6,"x":0.316,"y":0.581},{"c":3,"o":7,"x":0.33,"y":0.439},{"c":3,"o":8,"x":0.338,"y":0.277},{"c":3,"o":9,"x":0.338,"y":0.114},{"c":3,"o":10,"x":0.327,"y":-0.048},{"c":3,"o":11,"x":0.308,"y":-0.19},{"c":3,"o":12,"x":0.28,"y":-0.302},{"c":3,"o":13,"x":0.24,"y":-0.393},{"c":3,"o":14,"x":0.191,"y":-0.454},{"c":3,"o":15,"x":0.126,"y":-0.491},{"c":3,"o":16,"x":0.049,"y":-0.499},{"c":3,"o":17,"x":-0.038,"y":-0.499},{"c":3,"o":18,"x":-0.103,"y":-0.485},{"c":3,"o":19,"x":-0.168,"y":-0.444},{"c":3,"o":20,"x":-0.233,"y":-0.373},{"c":3,"o":21,"x":-0.282,"y":-0.271},{"c":3,"o":22,"x":-0.312,"y":-0.15},{"c":3,"o":23,"x":-0.328,"y":-0.008},{"c":3,"o":24,"x":-0.331,"y":0.155},{"c":3,"o":25,"x":-0.326,"y":0.317},{"c":3,"o":26,"x":-0.312,"y":0.479},{"c":3,"o":27,"x":-0.288,"y":0.642},{"c":3,"o":28,"x":-0.25,"y":0.804},{"c":3,"o":29,"x":-0.201,"y":0.936},{"c":3,"o":30,"x":-0.141,"y":1.027},{"c":3,"o":31,"x":-0.076,"y":1.082},{"c":3,"o":32,"x":0.003,"y":1.098}
      ]},
      "mark": {"type": "line", "stroke": "#0e1a5a", "strokeWidth": 2.6},
      "encoding": {
        "x": {"field": "x", "type": "quantitative", "scale": {"domain": [-1, 1], "nice": false, "zero": false},
              "axis": {"orient": "bottom", "zindex": 2, "values": [-1,-0.75,-0.5,-0.25,0,0.25,0.5,0.75,1],
                       "tickSize": {"condition": {"test": "abs(datum.value*2-round(datum.value*2))<0.001", "value": -15}, "value": -8},
                       "labelExpr": "abs(datum.value*2-round(datum.value*2))<0.001 ? ''+datum.value : ''",
                       "labelFontSize": 40, "labelPadding": 22, "title": null}},
        "y": {"field": "y", "type": "quantitative", "scale": {"domain": [-1, 3], "nice": false, "zero": false},
              "axis": {"orient": "left", "zindex": 2, "values": [-1,-0.75,-0.5,-0.25,0,0.25,0.5,0.75,1,1.25,1.5,1.75,2,2.25,2.5,2.75,3],
                       "tickSize": {"condition": {"test": "abs(datum.value*2-round(datum.value*2))<0.001", "value": -15}, "value": -8},
                       "labelExpr": "abs(datum.value*2-round(datum.value*2))<0.001 ? ''+datum.value : ''",
                       "labelFontSize": 40, "labelPadding": 24, "labelOffset": 0,
                       "title": "bt", "titleAngle": 0, "titleX": -81, "titleY": 4, "titleAlign": "left", "titleBaseline": "alphabetic",
                       "titleFont": "Liberation Sans", "titleFontWeight": "bold", "titleFontSize": 30, "titleColor": "black"}},
        "detail": {"field": "c", "type": "nominal"},
        "order": {"field": "o", "type": "quantitative"}
      }
    },
    {
      "data": {"values": [{"x": -0.086, "y": 2.446, "label": "Reco"}]},
      "mark": {"type": "text", "font": "Liberation Serif", "fontSize": 69, "align": "left", "baseline": "alphabetic", "color": "black"},
      "encoding": {
        "x": {"field": "x", "type": "quantitative", "scale": {"domain": [-1, 1], "nice": false, "zero": false},
              "axis": {"orient": "top", "zindex": 2, "values": [-1,-0.75,-0.5,-0.25,0,0.25,0.5,0.75,1],
                       "tickSize": {"condition": {"test": "abs(datum.value*2-round(datum.value*2))<0.001", "value": -9}, "value": -5},
                       "labels": false, "title": null}},
        "y": {"field": "y", "type": "quantitative", "scale": {"domain": [-1, 3], "nice": false, "zero": false},
              "axis": {"orient": "right", "zindex": 2, "values": [-1,-0.75,-0.5,-0.25,0,0.25,0.5,0.75,1,1.25,1.5,1.75,2,2.25,2.5,2.75,3],
                       "tickSize": {"condition": {"test": "abs(datum.value*2-round(datum.value*2))<0.001", "value": -9}, "value": -5},
                       "labels": false, "title": null}},
        "text": {"field": "label", "type": "nominal"}
      }
    },
    {
      "data": {"values": [{"x": 0, "y": 0, "label": "+SM"}]},
      "mark": {"type": "text", "font": "Liberation Serif", "fontSize": 42, "fontWeight": "bold", "align": "left", "baseline": "alphabetic", "color": "#cc2a12", "dx": -9, "dy": 18},
      "encoding": {
        "x": {"field": "x", "type": "quantitative", "scale": {"domain": [-1, 1], "nice": false, "zero": false}, "axis": null},
        "y": {"field": "y", "type": "quantitative", "scale": {"domain": [-1, 3], "nice": false, "zero": false}, "axis": null},
        "text": {"field": "label", "type": "nominal"}
      }
    }
  ],
  "resolve": {"scale": {"x": "independent", "y": "independent"}, "axis": {"x": "independent", "y": "independent"}}
},
{
  "width": 43,
  "height": 657,
  "data": {"values": [
{"lo":0,"hi":0.7692,"m":0.38},{"lo":0.7692,"hi":1.5385,"m":1.15},{"lo":1.5385,"hi":2.3077,"m":1.92},{"lo":2.3077,"hi":3.0769,"m":2.69},{"lo":3.0769,"hi":3.8462,"m":3.46},{"lo":3.8462,"hi":4.6154,"m":4.23},{"lo":4.6154,"hi":5.3846,"m":5.0},{"lo":5.3846,"hi":6.1538,"m":5.77},{"lo":6.1538,"hi":6.9231,"m":6.54},{"lo":6.9231,"hi":7.6923,"m":7.31},{"lo":7.6923,"hi":8.4615,"m":8.08},{"lo":8.4615,"hi":9.2308,"m":8.85},{"lo":9.2308,"hi":10,"m":9.62},{"lo":10,"hi":10.7692,"m":10.38},{"lo":10.7692,"hi":11.5385,"m":11.15},{"lo":11.5385,"hi":12.3077,"m":11.92},{"lo":12.3077,"hi":13.0769,"m":12.69},{"lo":13.0769,"hi":13.8462,"m":13.46},{"lo":13.8462,"hi":14.6154,"m":14.23},{"lo":14.6154,"hi":15.3846,"m":15.0},{"lo":15.3846,"hi":16.1538,"m":15.77},{"lo":16.1538,"hi":16.9231,"m":16.54},{"lo":16.9231,"hi":17.6923,"m":17.31},{"lo":17.6923,"hi":18.4615,"m":18.08},{"lo":18.4615,"hi":19.2308,"m":18.85},{"lo":19.2308,"hi":20,"m":19.62}
  ]},
  "mark": {"type": "rect", "strokeWidth": 0.6},
  "encoding": {
    "y": {"field": "lo", "type": "quantitative", "scale": {"domain": [0, 20], "nice": false, "zero": false},
          "axis": {"orient": "right", "zindex": 2, "values": [0, 5, 10, 15, 20], "tickSize": -22, "labelFontSize": 22, "labelPadding": 36, "title": null}},
    "y2": {"field": "hi"},
    "color": {"field": "m", "type": "quantitative", "scale": {"type": "quantize", "domain": [0, 20], "range": ["#26378f","#1f47ae","#1157cc","#0f63d6","#176cd6","#1f76d4","#2680d1","#2e89ce","#3592ca","#3c9ac5","#44a2bf","#4ca9b5","#57aea9","#63b29d","#70b491","#7fb585","#90b67b","#a1b673","#b2b56d","#c2b369","#d2b263","#e0b45a","#ecb84f","#f6c445","#f9d93b","#fcf131"]}, "legend": null},
    "stroke": {"field": "m", "type": "quantitative", "scale": {"type": "quantize", "domain": [0, 20], "range": ["#26378f","#1f47ae","#1157cc","#0f63d6","#176cd6","#1f76d4","#2680d1","#2e89ce","#3592ca","#3c9ac5","#44a2bf","#4ca9b5","#57aea9","#63b29d","#70b491","#7fb585","#90b67b","#a1b673","#b2b56d","#c2b369","#d2b263","#e0b45a","#ecb84f","#f6c445","#f9d93b","#fcf131"]}, "legend": null}
  }
}
]
}
